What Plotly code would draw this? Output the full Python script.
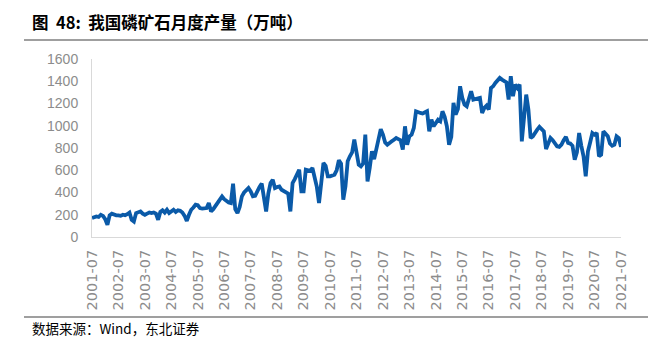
import plotly.graph_objects as go

# ---- data (万吨), monthly from 2001-07 to 2021-07 ----
start_year, start_month = 2001, 7
values = [
    170, 175, 185, 180, 200, 190,
    160, 110, 195, 210, 200, 195,
    195, 190, 200, 195, 205, 220,
    155, 140, 215, 220, 230, 210,
    200, 210, 220, 215, 220, 210,
    155, 225, 240, 220, 245, 215,
    235, 245, 225, 240, 235, 220,
    190, 145, 200, 245, 265, 290,
    285, 260, 255, 260, 260, 305,
    230, 250, 280, 310, 335, 365,
    340, 320, 310, 305, 480, 250,
    215, 270, 365, 400, 415, 440,
    410, 365, 370, 420, 450, 480,
    360, 230, 390, 485, 515, 440,
    450, 455, 425, 410, 395, 390,
    230, 485, 520, 575, 605, 410,
    410, 605, 600, 595, 620, 530,
    450, 305, 460, 665, 640, 545,
    545, 550, 560, 600, 690, 660,
    335, 455, 680, 725, 760, 875,
    740, 650, 635, 660, 920, 500,
    620, 770, 700, 790, 880, 970,
    920, 850, 830, 850, 860, 875,
    890, 880, 870, 785, 995, 830,
    905, 920, 980, 1130, 1120, 1115,
    1110, 1120, 1130, 950, 1055, 995,
    1030, 1055, 1040, 1130, 1080, 995,
    830, 900, 1205, 1100, 1150, 1355,
    1250, 1190, 1175, 1230, 1310, 1235,
    1240, 1250, 1250, 1115, 1160, 1180,
    1145, 1340, 1355, 1385, 1410, 1430,
    1415, 1400, 1390, 1235, 1445, 1265,
    1370, 1340, 1370, 860, 1100, 1280,
    1145, 890, 905, 940, 965, 990,
    970, 950, 790, 840, 890, 870,
    840, 815, 810, 830, 870, 900,
    845, 840, 820, 695, 760, 935,
    820, 725, 545, 770, 850, 935,
    920, 935, 725, 740, 950, 925,
    905, 840, 820, 830, 905, 890,
    810,
]
months = []
y, m = start_year, start_month
for _ in values:
    months.append(f"{y}-{m:02d}")
    m += 1
    if m > 12:
        m = 1
        y += 1
tick_labels = [f"{yr}-07" for yr in range(2001, 2022)]
y_ticks = [0, 200, 400, 600, 800, 1000, 1200, 1400, 1600]

title_text = "图  48:  我国磷矿石月度产量（万吨）"
source_text = "数据来源：Wind，东北证券"

W, H = 669, 341
L, R, T, B = 92, 48, 59, 104
pw, ph = W - L - R, H - T - B


def px(x):
    return (x - L) / pw


def py(yv):
    return 1 - (yv - T) / ph


fig = go.Figure()
fig.add_trace(go.Scatter(
    x=months, y=values, mode="lines",
    line=dict(color="#0A5AA8", width=3.8),
    hoverinfo="skip", showlegend=False,
))

fig.update_layout(
    width=W, height=H,
    margin=dict(l=L, r=R, t=T, b=B),
    paper_bgcolor="white", plot_bgcolor="white",
    font=dict(family="Liberation Sans, Arial, sans-serif", color="#7f7f7f"),
    xaxis=dict(
        type="category",
        range=[0, len(values) - 1],
        tickmode="array", tickvals=tick_labels, ticktext=tick_labels,
        tickangle=-90,
        tickfont=dict(size=14.5, color="#8c8c8c", family="DejaVu Sans, sans-serif"),
        showgrid=False, zeroline=False,
        showline=True, linecolor="#d9d9d9", linewidth=1,
        ticks="", ticklabelstandoff=6,
    ),
    yaxis=dict(
        range=[0, 1600],
        tickmode="array", tickvals=y_ticks,
        tickfont=dict(size=14, color="#8c8c8c"),
        showgrid=False, zeroline=False,
        showline=True, linecolor="#d9d9d9", linewidth=1,
        ticks="", ticklabelstandoff=10,
    ),
    shapes=[
        dict(type="line", xref="paper", yref="paper",
             x0=px(24), x1=px(648), y0=py(40), y1=py(40),
             line=dict(color="#404040", width=1.2)),
        dict(type="line", xref="paper", yref="paper",
             x0=px(24), x1=px(648), y0=py(317), y1=py(317),
             line=dict(color="#404040", width=1.2)),
    ],
    annotations=[
        dict(text=f"<b>{title_text}</b>", xref="paper", yref="paper",
             x=px(30), y=py(22), xanchor="left", yanchor="middle",
             showarrow=False,
             font=dict(family="Noto Sans CJK SC", size=16.5, color="#000000")),
        dict(text=source_text, xref="paper", yref="paper",
             x=px(30), y=py(328), xanchor="left", yanchor="middle",
             showarrow=False,
             font=dict(family="Noto Sans CJK SC", size=13.5, color="#000000")),
    ],
)

fig.write_html("out.html")
